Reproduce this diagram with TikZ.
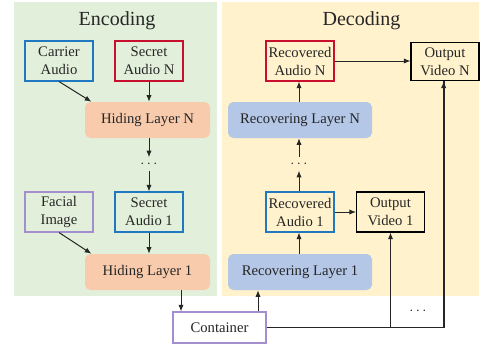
\documentclass[tikz,border=0pt]{standalone}
\usepackage{fontspec}
\setmainfont{Liberation Serif}
\usetikzlibrary{arrows.meta,calc}
\definecolor{encbg}{HTML}{E2EFDA}
\definecolor{decbg}{HTML}{FFF2CC}
\definecolor{hidfill}{HTML}{F8CBAD}
\definecolor{recfill}{HTML}{B4C7E7}
\definecolor{bblue}{HTML}{1F78C0}
\definecolor{bred}{HTML}{C8102E}
\definecolor{bpurple}{HTML}{A38FCF}
\definecolor{txt}{HTML}{262626}
\tikzset{
  box/.style={draw, line width=0.8pt, fill=white, minimum width=51pt, minimum height=30pt, inner sep=0pt, align=center, text=txt, font=\fontsize{11}{13.5}\selectfont},
  layer/.style={rounded corners=4pt, minimum height=27pt, inner sep=0pt, text=txt, font=\fontsize{11}{13.5}\selectfont},
  arr/.style={line width=0.75pt, draw=txt, -{Latex[length=5pt,width=4pt]}},
  title/.style={text=txt, font=\fontsize{15}{18}\selectfont, anchor=base},
  dotsn/.style={inner sep=0pt, minimum height=9.75pt, text=txt, font=\fontsize{11}{13}\selectfont}
}
\begin{document}
\begin{tikzpicture}[x=0.75pt,y=-0.75pt]
\useasboundingbox (0,0) rectangle (481,350);
% panels
\fill[encbg] (14,2) rectangle (217,296);
\fill[decbg] (222,2) rectangle (479,296);
\node[title] (enc) at (117,25) {Encoding};
\node[title] (dec) at (361.5,25) {Decoding};
% encoding
\node[box, draw=bblue, fill=none] (car) at (59,61) {Carrier\\Audio};
\node[box, draw=bred, fill=none] (secN) at (149,61) {Secret\\Audio N};
\node[layer, fill=hidfill, minimum width=93.75pt] (hidN) at (147.5,120) {Hiding Layer N};
\node[dotsn] (dotsE) at (149,164) {$\cdots$};
\node[box, draw=bpurple, fill=none] (fac) at (59,212) {Facial\\Image};
\node[box, draw=bblue, fill=none] (sec1) at (149,212) {Secret\\Audio 1};
\node[layer, fill=hidfill, minimum width=93.75pt] (hid1) at (147.5,272) {Hiding Layer 1};
\node[box, draw=bpurple, minimum width=69.75pt, minimum height=23.25pt] (cont) at (219.5,327.5) {Container};
% decoding
\node[box, draw=bred, fill=none] (rAN) at (300,61) {Recovered\\Audio N};
\node[box, draw=black, fill=none, minimum height=29pt] (oN) at (445,61.5) {Output\\Video N};
\node[layer, fill=recfill, minimum width=108pt] (rLN) at (300,120) {Recovering Layer N};
\node[dotsn] (dotsD) at (299,164) {$\cdots$};
\node[box, draw=bblue, fill=none] (rA1) at (300,212) {Recovered\\Audio 1};
\node[box, draw=black, fill=none] (o1) at (390.5,212) {Output\\Video 1};
\node[layer, fill=recfill, minimum width=108pt] (rL1) at (300,272) {Recovering Layer 1};
\node[text=txt, font=\fontsize{11}{13}\selectfont, inner sep=0pt] (dotsC) at (418,311) {$\cdots$};
\coordinate (cx1) at (181,300);
\coordinate (cx2) at (258,300);
% arrows encoding
\draw[arr] (car.south) -- ([xshift=5pt]hidN.north west);
\draw[arr] (secN.south) -- (secN.south |- hidN.north);
\draw[arr] (hidN.south -| dotsE.north) -- (dotsE.north);
\draw[arr] (dotsE.south) -- (sec1.north);
\draw[arr] (fac.south) -- ([xshift=5pt]hid1.north west);
\draw[arr] (sec1.south) -- (sec1.south |- hid1.north);
\draw[arr] (hid1.south -| cx1) -- (cont.north -| cx1);
% arrows decoding
\draw[arr] (cont.north -| cx2) -- (rL1.south -| cx2);
\draw[arr] (rL1.north -| dotsD.north) -- (rA1.south -| dotsD.north);
\draw[arr] (rA1.north -| dotsD.south) -- (dotsD.south);
\draw[arr] (dotsD.north) -- (rLN.south -| dotsD.north);
\draw[arr] (rLN.north -| dotsD.north) -- (rAN.south -| dotsD.north);
\draw[arr] (rAN.east) -- (rAN.east -| oN.west);
\draw[arr] (rA1.east) -- (o1.west);
\draw[line width=1.3pt, draw=txt] (cont.east) -| ([xshift=-1pt]oN.south);
\draw[arr] ([xshift=-1pt]oN.south |- cont.east) -- ([xshift=-1pt]oN.south);
\draw[arr] (cont.east -| o1.south) -- (o1.south);
\end{tikzpicture}
\end{document}
